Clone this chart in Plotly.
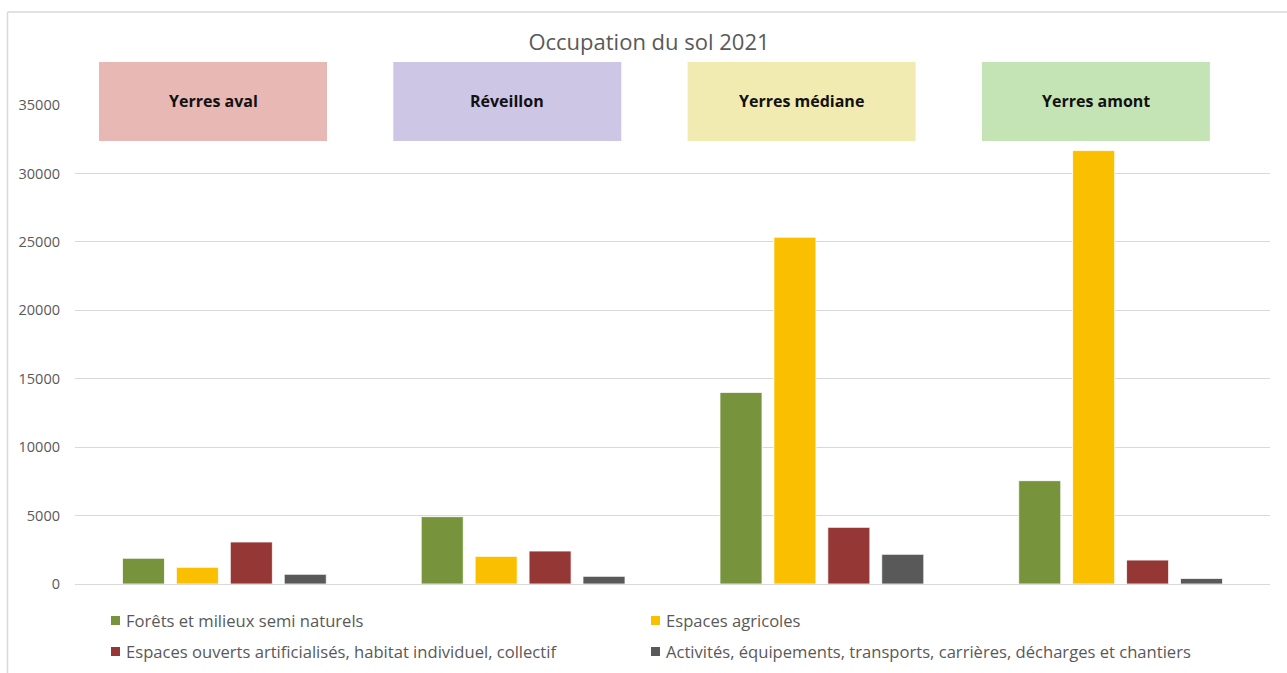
import plotly.graph_objects as go

# Land-use areas per sub-basin (2021)
basins = ["Yerres aval", "Réveillon", "Yerres médiane", "Yerres amont"]
series_names = [
    "Forêts et milieux semi naturels",
    "Espaces agricoles",
    "Espaces ouverts artificialisés, habitat individuel, collectif",
    "Activités, équipements, transports, carrières, décharges et chantiers",
]
forets = [1880, 4920, 14000, 7550]
agricoles = [1220, 2020, 25340, 31670]
ouverts_artificialises = [3070, 2410, 4140, 1750]
activites = [710, 560, 2170, 410]
y_ticks = [0, 5000, 10000, 15000, 20000, 25000, 30000, 35000]

series_values = [forets, agricoles, ouverts_artificialises, activites]
series_colors = ["#77933C", "#FAC000", "#953735", "#595959"]
basin_colors = ["#E8B8B5", "#CEC6E5", "#F1EBB2", "#C5E4B6"]

W, H = 1287, 673
ML, MR, MT, MB = 75, 17, 105, 89
PW, PH = W - ML - MR, H - MT - MB
FONT = "'Open Sans', Lato, sans-serif"
GREY = "#595959"


def px_x(px):
    return (px - ML) / PW


def px_y(py):
    return (H - MB - py) / PH


fig = go.Figure()
for name, vals, col in zip(series_names, series_values, series_colors):
    fig.add_trace(go.Bar(
        x=basins, y=vals, name=name,
        marker=dict(color=col, line=dict(color="white", width=0.8)),
        showlegend=False,
    ))

shapes = []
annotations = []

# Basin header boxes above the groups
for i, (b, c) in enumerate(zip(basins, basin_colors)):
    x0 = 99 + 294.3 * i
    shapes.append(dict(type="rect", xref="paper", yref="paper",
                       x0=px_x(x0), x1=px_x(x0 + 228), y0=px_y(141), y1=px_y(62),
                       fillcolor=c, line=dict(width=0), layer="above"))
    annotations.append(dict(xref="paper", yref="paper", x=px_x(x0 + 114), y=px_y(101),
                            text=f"<b>{b}</b>", showarrow=False,
                            font=dict(family=FONT, size=16, color="#111111"),
                            xanchor="center", yanchor="middle"))

# Two-column legend
leg_pos = [(111, 620.5), (651, 620.5), (111, 651.5), (651, 651.5)]
for (lx, ly), name, col in zip(leg_pos, series_names, series_colors):
    shapes.append(dict(type="rect", xref="paper", yref="paper",
                       x0=px_x(lx), x1=px_x(lx + 9), y0=px_y(ly + 4.5), y1=px_y(ly - 4.5),
                       fillcolor=col, line=dict(width=0)))
    annotations.append(dict(xref="paper", yref="paper", x=px_x(lx + 13), y=px_y(ly),
                            text=name, showarrow=False,
                            font=dict(family=FONT, size=16.6, color=GREY),
                            xanchor="left", yanchor="middle"))

# Chart frame (left and top edges)
shapes.append(dict(type="line", xref="paper", yref="paper",
                   x0=px_x(7.5), x1=px_x(7.5), y0=px_y(12), y1=px_y(H + 5),
                   line=dict(color="#D9D9D9", width=1.5)))
shapes.append(dict(type="line", xref="paper", yref="paper",
                   x0=px_x(7.5), x1=px_x(W + 5), y0=px_y(12), y1=px_y(12),
                   line=dict(color="#D9D9D9", width=1.5)))

fig.update_layout(
    width=W, height=H, autosize=False,
    margin=dict(l=ML, r=MR, t=MT, b=MB),
    paper_bgcolor="white", plot_bgcolor="white",
    barmode="group", bargap=0.278, bargroupgap=0.22,
    title=dict(text="Occupation du sol 2021", x=649 / W, y=1 - 42 / H,
               xanchor="center", yanchor="middle",
               font=dict(family=FONT, size=22, color=GREY)),
    font=dict(family=FONT, color=GREY),
    shapes=shapes, annotations=annotations,
)
fig.update_xaxes(showticklabels=False, showgrid=False, showline=False, zeroline=False)
fig.update_yaxes(range=[0, 35000], tickvals=y_ticks, ticktext=[str(v) for v in y_ticks],
                 showgrid=True, gridcolor="#D9D9D9", gridwidth=1,
                 zeroline=True, zerolinecolor="#D9D9D9", zerolinewidth=1,
                 showline=False, ticks="", ticklabelstandoff=14,
                 tickfont=dict(family=FONT, size=14.5, color=GREY))

fig.write_html("out.html")
